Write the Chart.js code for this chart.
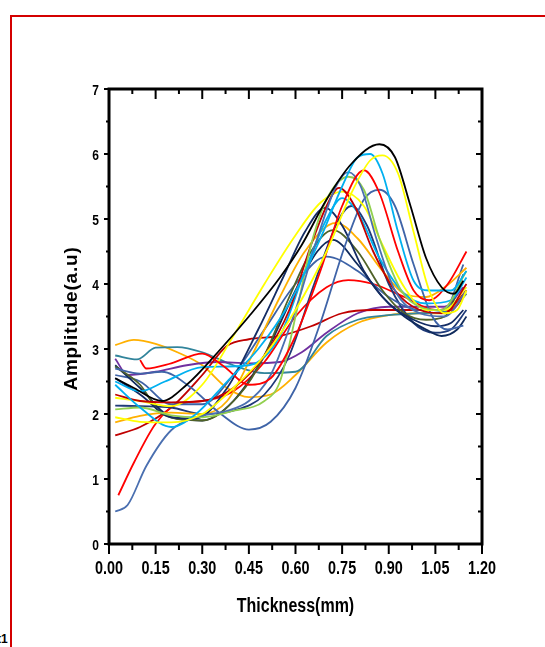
<!DOCTYPE html>
<html>
<head>
<meta charset="utf-8">
<script src="https://cdn.jsdelivr.net/npm/chart.js@4.4.1/dist/chart.umd.min.js"></script>
<style>
  html, body { margin: 0; padding: 0; background: #fff; }
  #wrap { position: relative; width: 545px; height: 647px; overflow: hidden; }
  #frame { position: absolute; left: 10px; top: 15px; width: 600px; height: 700px; border: 2px solid #d40000; box-sizing: border-box; }
  #cut { position: absolute; left: -3px; top: 632px; font: bold 12px "Liberation Sans", Arial, sans-serif; color: #000; }
  canvas { position: absolute; left: 0; top: 0; }
</style>
</head>
<body>
<div id="wrap">
  <div id="frame"></div>
  <div id="cut">t1</div>
  <canvas id="myChart" width="545" height="647"></canvas>
</div>
<script>
// axis ticks
let xTicks = [0, 0.15, 0.30, 0.45, 0.60, 0.75, 0.90, 1.05, 1.20]
let xTickLabels = ['0.00', '0.15', '0.30', '0.45', '0.60', '0.75', '0.90', '1.05', '1.20']
let yTicks = [0, 1, 2, 3, 4, 5, 6, 7]
let yTickLabels = ['0', '1', '2', '3', '4', '5', '6', '7']

// curves, [thickness, amplitude]
let blackCurve = [[0.02,2.55],[0.08,2.4],[0.17,2.2],[0.25,2.45],[0.35,2.95],[0.45,3.5],[0.55,4.1],[0.62,4.6],[0.7,5.3],[0.78,5.85],[0.87,6.15],[0.92,5.95],[0.97,5.2],[1.02,4.4],[1.07,3.95],[1.11,3.85],[1.14,4.05]]
let yellowA = [[0.02,1.95],[0.1,1.88],[0.2,1.87],[0.3,2.0],[0.4,2.4],[0.5,2.9],[0.6,3.6],[0.7,4.5],[0.78,5.4],[0.84,5.9],[0.88,5.98],[0.93,5.7],[0.98,4.8],[1.03,3.9],[1.08,3.55],[1.12,3.6],[1.15,3.9]]
let yellowB = [[0.02,2.25],[0.1,2.2],[0.2,2.12],[0.3,2.45],[0.4,3.2],[0.5,4.0],[0.6,4.75],[0.68,5.25],[0.75,5.42],[0.82,5.2],[0.88,4.6],[0.95,3.95],[1.02,3.6],[1.08,3.6],[1.15,3.95]]
let lightBlueA = [[0.02,2.45],[0.1,2.1],[0.2,1.8],[0.28,2.0],[0.38,2.5],[0.48,3.0],[0.58,3.7],[0.68,4.7],[0.75,5.5],[0.8,5.95],[0.84,6.0],[0.88,5.7],[0.93,4.8],[0.98,4.05],[1.03,3.9],[1.1,3.9],[1.15,4.2]]
let lightBlueB = [[0.02,2.5],[0.1,2.35],[0.18,2.5],[0.3,2.72],[0.45,2.75],[0.55,3.2],[0.63,4.2],[0.7,5.0],[0.75,5.32],[0.8,5.1],[0.87,4.4],[0.95,3.85],[1.02,3.7],[1.1,3.75],[1.15,4.1]]
let redA = [[0.1,2.83],[0.12,2.7],[0.2,2.78],[0.3,2.93],[0.37,2.73],[0.45,2.45],[0.52,2.55],[0.6,3.2],[0.68,4.2],[0.75,5.2],[0.82,5.75],[0.87,5.4],[0.93,4.5],[0.98,3.9],[1.03,3.75],[1.09,4.0],[1.15,4.5]]
let redB = [[0.03,0.75],[0.08,1.25],[0.15,1.85],[0.22,2.15],[0.3,2.2],[0.4,2.35],[0.5,2.8],[0.6,3.5],[0.7,3.95],[0.77,4.06],[0.85,4.0],[0.95,3.8],[1.05,3.6],[1.1,3.6],[1.15,3.9]]
let darkRedA = [[0.02,2.3],[0.1,2.2],[0.2,2.18],[0.3,2.2],[0.4,2.4],[0.5,2.9],[0.58,3.6],[0.65,4.6],[0.7,5.2],[0.74,5.48],[0.79,5.2],[0.85,4.5],[0.92,3.9],[1.0,3.6],[1.08,3.55],[1.15,4.0]]
let darkRedB = [[0.02,1.67],[0.1,1.8],[0.2,2.1],[0.3,2.6],[0.38,3.05],[0.45,3.15],[0.55,3.2],[0.65,3.35],[0.75,3.55],[0.85,3.6],[0.95,3.6],[1.05,3.6],[1.1,3.65],[1.15,3.9]]
let steelA = [[0.02,0.5],[0.06,0.6],[0.12,1.2],[0.2,1.75],[0.28,1.95],[0.38,2.05],[0.45,2.2],[0.52,2.6],[0.6,3.6],[0.67,4.7],[0.73,5.5],[0.77,5.72],[0.81,5.5],[0.86,4.7],[0.92,3.9],[1.0,3.55],[1.08,3.5],[1.15,3.9]]
let steelB = [[0.02,2.7],[0.1,2.62],[0.17,2.65],[0.26,2.42],[0.36,2.0],[0.45,1.76],[0.52,1.88],[0.6,2.4],[0.68,3.4],[0.76,4.6],[0.82,5.3],[0.87,5.45],[0.92,5.2],[0.98,4.3],[1.04,3.5],[1.09,3.3],[1.14,3.36]]
let steelC = [[0.02,2.6],[0.1,2.5],[0.2,2.15],[0.3,2.15],[0.4,2.6],[0.5,3.3],[0.6,4.0],[0.7,4.42],[0.8,4.2],[0.9,3.8],[1.0,3.6],[1.08,3.6],[1.14,4.3]]
let lightGreen = [[0.02,2.07],[0.1,2.1],[0.2,1.98],[0.3,1.95],[0.4,2.05],[0.5,2.2],[0.55,2.5],[0.6,3.5],[0.65,4.6],[0.7,5.3],[0.77,5.65],[0.82,5.45],[0.87,4.7],[0.94,3.9],[1.0,3.65],[1.07,3.6],[1.15,4.2]]
let navyA = [[0.02,2.55],[0.1,2.3],[0.2,1.95],[0.28,1.93],[0.38,2.4],[0.48,3.3],[0.56,4.1],[0.63,4.8],[0.695,5.17],[0.75,4.9],[0.82,4.2],[0.9,3.7],[0.98,3.45],[1.05,3.35],[1.1,3.4],[1.14,3.6]]
let navyB = [[0.02,2.75],[0.1,2.4],[0.2,1.95],[0.3,1.9],[0.4,2.2],[0.5,2.9],[0.6,3.9],[0.67,4.5],[0.72,4.68],[0.8,4.3],[0.88,3.8],[0.95,3.5],[1.02,3.3],[1.07,3.2],[1.12,3.3],[1.15,3.5]]
let navyC = [[0.02,2.13],[0.1,2.12],[0.2,2.1],[0.3,2.0],[0.4,2.05],[0.5,2.3],[0.58,2.9],[0.66,4.0],[0.74,5.0],[0.78,5.2],[0.83,4.9],[0.9,4.0],[0.98,3.4],[1.05,3.25],[1.1,3.3],[1.15,3.6]]
let orangeA = [[0.02,3.06],[0.08,3.14],[0.15,3.08],[0.22,2.95],[0.3,2.75],[0.38,2.4],[0.45,2.26],[0.52,2.3],[0.6,2.6],[0.7,3.1],[0.8,3.4],[0.9,3.52],[1.0,3.55],[1.07,3.55],[1.12,3.7],[1.15,3.85]]
let orangeB = [[0.02,1.87],[0.1,1.97],[0.2,2.02],[0.3,2.0],[0.38,2.2],[0.46,2.9],[0.55,3.8],[0.63,4.5],[0.73,4.94],[0.8,4.7],[0.88,4.2],[0.95,3.85],[1.02,3.8],[1.08,3.95],[1.15,4.25]]
let darkGreen = [[0.02,2.73],[0.1,2.45],[0.17,2.0],[0.3,1.9],[0.42,2.3],[0.5,2.9],[0.58,3.8],[0.65,4.5],[0.72,4.83],[0.8,4.5],[0.88,3.9],[0.95,3.55],[1.02,3.45],[1.08,3.5],[1.14,4.15]]
let purple = [[0.02,2.85],[0.06,2.6],[0.15,2.65],[0.25,2.75],[0.35,2.8],[0.45,2.78],[0.55,2.8],[0.62,2.95],[0.7,3.25],[0.8,3.55],[0.9,3.65],[1.0,3.65],[1.08,3.65],[1.14,3.95]]
let teal = [[0.02,2.9],[0.09,2.84],[0.15,3.02],[0.22,3.03],[0.3,2.95],[0.4,2.75],[0.5,2.63],[0.6,2.65],[0.7,3.2],[0.8,3.45],[0.9,3.52],[1.0,3.55],[1.1,3.6],[1.15,3.85]]

let curves = [blackCurve, yellowA, lightBlueA, redA, steelA, lightGreen, darkRedA, yellowB, lightBlueB, steelB, navyA, orangeB, darkGreen, navyB, steelC, navyC, redB, darkRedB, purple, teal, orangeA]
let colors = ['#000000', '#ffff00', '#00b0f0', '#ff0000', '#4a6fb0', '#92d050', '#c00000', '#ffff00', '#00b0f0', '#3f64a8', '#142c64', '#ffb000', '#4f6228', '#0f2a5c', '#3d62a6', '#1f3a78', '#ff0000', '#c00000', '#7030a0', '#31849b', '#ffb000']

let sans = '"Liberation Sans", Arial, sans-serif'

// texto estreito (sem Arial Narrow instalada)
function narrowText(ctx, txt, x, y, align, sx) {
  ctx.save()
  ctx.translate(x, y)
  ctx.scale(sx, 1)
  ctx.textAlign = align
  ctx.fillText(txt, 0, 0)
  ctx.restore()
}

// frame, Origin style ticks, labels and titles
let eixos = {
  id: 'eixos',
  afterDraw(chart) {
    let ctx = chart.ctx
    let a = chart.chartArea
    let sx = chart.scales.x
    let sy = chart.scales.y
    ctx.save()
    ctx.strokeStyle = '#000'
    ctx.fillStyle = '#000'
    ctx.lineWidth = 2
    for (let i = 0; i < xTicks.length * 2 - 1; i++) {
      let px = sx.getPixelForValue(i * 0.075)
      let major = i % 2 == 0
      ctx.beginPath()
      ctx.moveTo(px, a.bottom); ctx.lineTo(px, a.bottom + (major ? 10 : 6))
      ctx.moveTo(px, a.top); ctx.lineTo(px, a.top + (major ? 10 : 5))
      ctx.stroke()
    }
    for (let i = 0; i < yTicks.length * 2 - 1; i++) {
      let py = sy.getPixelForValue(i * 0.5)
      let major = i % 2 == 0
      ctx.beginPath()
      ctx.moveTo(a.left, py); ctx.lineTo(a.left - (major ? 5 : 3), py)
      ctx.moveTo(a.right, py); ctx.lineTo(a.right - (major ? 6 : 4), py)
      ctx.stroke()
    }
    ctx.lineWidth = 3
    ctx.strokeRect(a.left, a.top, a.right - a.left, a.bottom - a.top)

    ctx.textBaseline = 'alphabetic'
    ctx.font = 'bold 18px ' + sans
    xTicks.forEach((v, i) => {
      narrowText(ctx, xTickLabels[i], sx.getPixelForValue(v), a.bottom + 30, 'center', 0.8)
    })
    ctx.font = 'bold 15px ' + sans
    yTicks.forEach((v, i) => {
      narrowText(ctx, yTickLabels[i], a.left - 10, sy.getPixelForValue(v) + 5.5, 'right', 0.8)
    })
    ctx.font = 'bold 20px ' + sans
    narrowText(ctx, 'Thickness(mm)', (a.left + a.right) / 2, 612, 'center', 0.8)

    ctx.save()
    ctx.translate(77, (a.top + a.bottom) / 2 + 2)
    ctx.rotate(-Math.PI / 2)
    ctx.font = 'bold 19px ' + sans
    ctx.letterSpacing = '0.8px'
    ctx.textAlign = 'center'
    ctx.fillText('Amplitude(a.u)', 0, 0)
    ctx.restore()
    ctx.restore()
  }
}

let ctx = document.getElementById('myChart')
let dados = {
  datasets: curves.map((c, i) => ({
    data: c,
    borderColor: colors[i],
    borderWidth: 1.8,
    pointRadius: 0,
    fill: false,
    cubicInterpolationMode: 'monotone',
  })),
}

let opcoes = {
  responsive: false,
  animation: false,
  events: [],
  layout: { padding: { left: 58, top: 89, right: 63, bottom: 20 } },
  plugins: { legend: { display: false }, tooltip: { enabled: false } },
  scales: {
    x: {
      type: 'linear',
      min: 0,
      max: 1.2,
      grid: { display: false, drawTicks: false },
      border: { display: false },
      ticks: { display: false },
      afterFit: s => { s.height = 83 },
    },
    y: {
      type: 'linear',
      min: 0,
      max: 7,
      grid: { display: false, drawTicks: false },
      border: { display: false },
      ticks: { display: false },
      afterFit: s => { s.width = 51 },
    },
  },
}

let meuGrafico = new Chart(ctx, {
  type: 'line',
  data: dados,
  options: opcoes,
  plugins: [eixos],
})
</script>
</body>
</html>
